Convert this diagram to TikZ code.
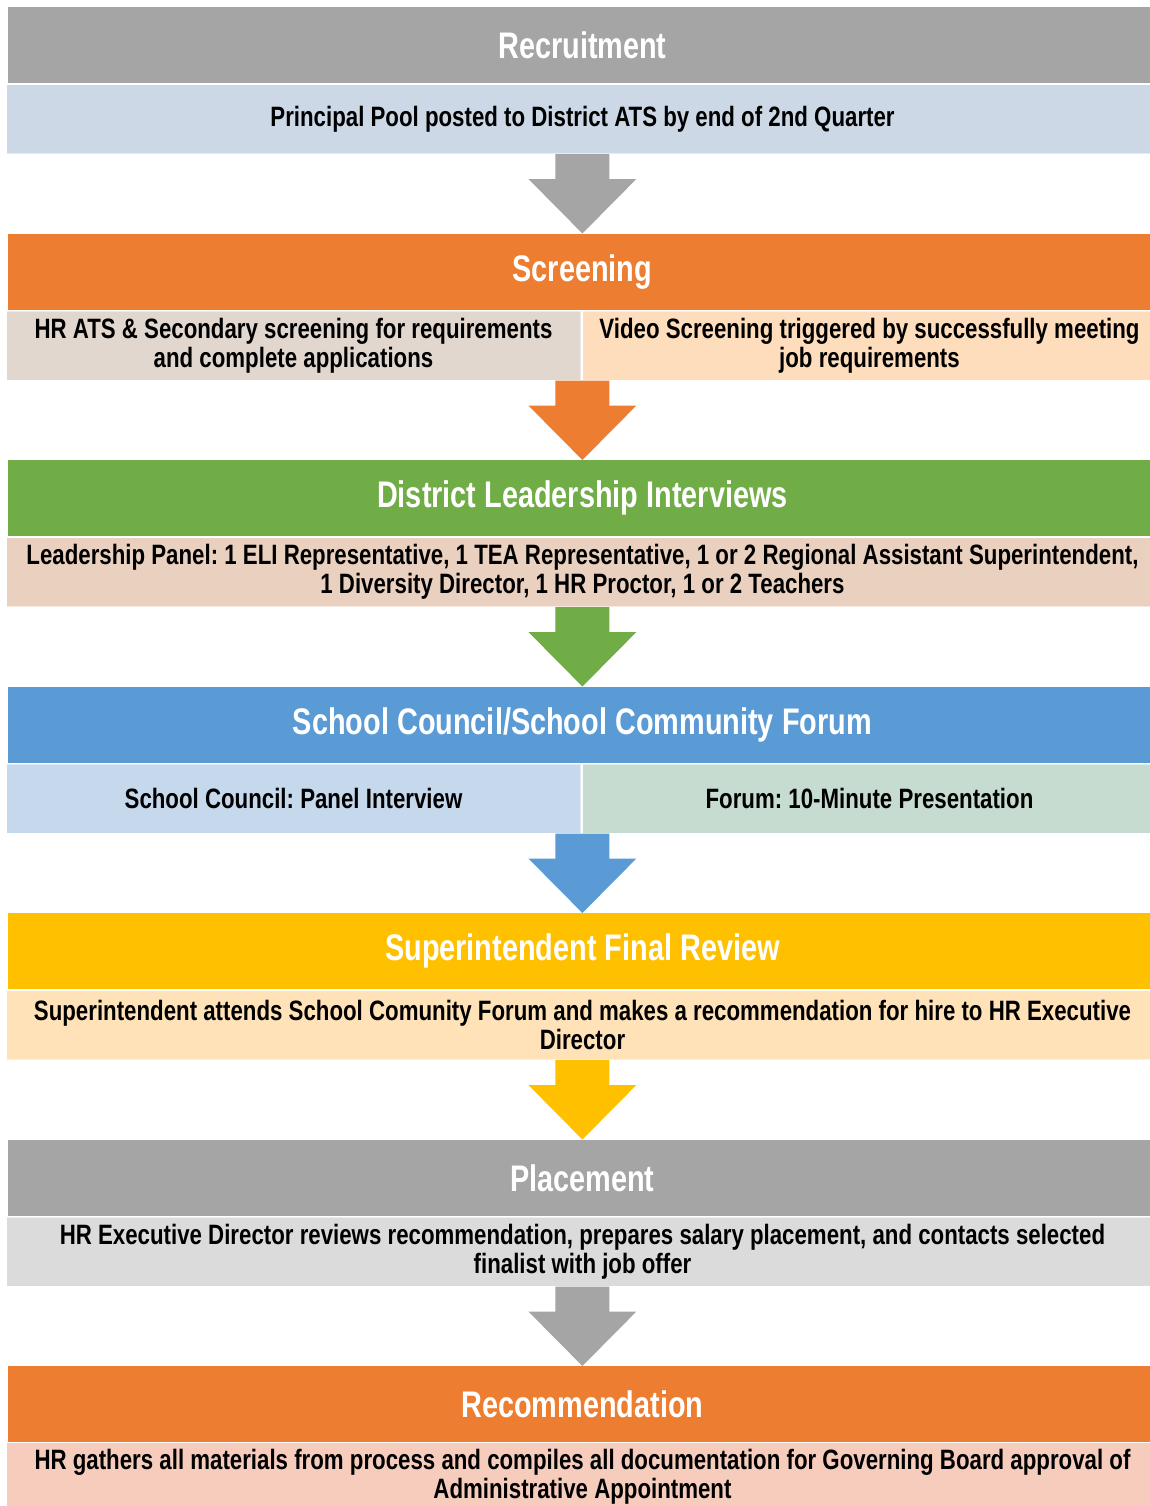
\documentclass[tikz,border=0pt]{standalone}
\usepackage{fontspec}
\setmainfont{Liberation Sans}[FakeStretch=0.78]
\newfontfamily\bodyfont{Liberation Sans}[FakeStretch=0.795]
\usetikzlibrary{calc}
\frenchspacing

\definecolor{hgray}{HTML}{A5A5A5}
\definecolor{horange}{HTML}{ED7D31}
\definecolor{hgreen}{HTML}{70AD47}
\definecolor{hblue}{HTML}{5B9BD5}
\definecolor{hgold}{HTML}{FFC000}
\definecolor{bblue}{HTML}{CCD8E6}
\definecolor{bsand}{HTML}{E1D7CF}
\definecolor{bpeach}{HTML}{FDDDBC}
\definecolor{bclay}{HTML}{EAD1BF}
\definecolor{bsky}{HTML}{C5D8EC}
\definecolor{bmint}{HTML}{C7DCD0}
\definecolor{bcream}{HTML}{FFE2B7}
\definecolor{bsilver}{HTML}{DBDBDB}
\definecolor{bpink}{HTML}{F6CCBD}

% block arrow from a body row down to the next header
\newcommand{\stagearrow}[3]{%
  \coordinate (top) at (#2.north |- #1.south);
  \fill[#3] ($(top)+(-27,0)$) -- ++(54,0) -- ++(0,25) -- ++(27,0)
    -- (#2.north) -- ($(top)+(-54,25)$) -- ++(27,0) -- cycle;}

\begin{document}
\begin{tikzpicture}[x=0.5pt, y=-0.5pt,
    stagehead/.style={rectangle, anchor=north west, inner sep=0pt,
      minimum width=574pt, minimum height=38pt, text=white,
      font=\fontsize{18.5}{22}\bfseries},
    stagebody/.style={rectangle, anchor=north west, inner sep=0pt,
      minimum width=576pt, minimum height=34.5pt, align=center,
      draw=white, draw opacity=0.5, line width=0.5pt,
      font=\fontsize{14}{14.6}\bodyfont\bfseries},
    halfbody/.style={stagebody, minimum width=287pt}]

  \useasboundingbox (0,0) rectangle (1150,1506);

  % Recruitment
  \node[stagehead, fill=hgray] (h1) at (8,7) {Recruitment};
  \node[stagebody, fill=bblue] (b1) at (6,84)
    {Principal Pool posted to District ATS by end of 2nd Quarter};

  % Screening
  \node[stagehead, fill=horange] (h2) at (8,233.5) {Screening};
  \node[halfbody, fill=bsand] (b2a) at (6,310.5)
    {HR ATS \& Secondary screening for requirements\\and complete applications};
  \node[halfbody, fill=bpeach] (b2b) at (582,310.5)
    {Video Screening triggered by successfully meeting\\job requirements};

  % District Leadership Interviews
  \node[stagehead, fill=hgreen] (h3) at (8,460) {District Leadership Interviews};
  \node[stagebody, fill=bclay] (b3) at (6,537)
    {Leadership Panel: 1 ELI Representative, 1 TEA Representative, 1 or 2 Regional Assistant Superintendent,\\1 Diversity Director, 1 HR Proctor, 1 or 2 Teachers};

  % School Council / Forum
  \node[stagehead, fill=hblue] (h4) at (8,686.5) {School Council/School Community Forum};
  \node[halfbody, fill=bsky] (b4a) at (6,763.5) {School Council: Panel Interview};
  \node[halfbody, fill=bmint] (b4b) at (582,763.5) {Forum: 10-Minute Presentation};

  % Superintendent Final Review
  \node[stagehead, fill=hgold] (h5) at (8,913) {Superintendent Final Review};
  \node[stagebody, fill=bcream] (b5) at (6,990)
    {Superintendent attends School Comunity Forum and makes a recommendation for hire to HR Executive\\Director};

  % Placement
  \node[stagehead, fill=hgray] (h6) at (8,1139.5) {Placement};
  \node[stagebody, fill=bsilver] (b6) at (6,1216.5)
    {HR Executive Director reviews recommendation, prepares salary placement, and contacts selected\\finalist with job offer};

  % Recommendation
  \node[stagehead, fill=horange] (h7) at (8,1366) {Recommendation};
  \node[stagebody, fill=bpink] (b7) at (6,1442)
    {HR gathers all materials from process and compiles all documentation for Governing Board approval of\\Administrative Appointment};

  % Arrows between stages
  \stagearrow{b1}{h2}{hgray}
  \stagearrow{b2a}{h3}{horange}
  \stagearrow{b3}{h4}{hgreen}
  \stagearrow{b4a}{h5}{hblue}
  \stagearrow{b5}{h6}{hgold}
  \stagearrow{b6}{h7}{hgray}

\end{tikzpicture}
\end{document}
